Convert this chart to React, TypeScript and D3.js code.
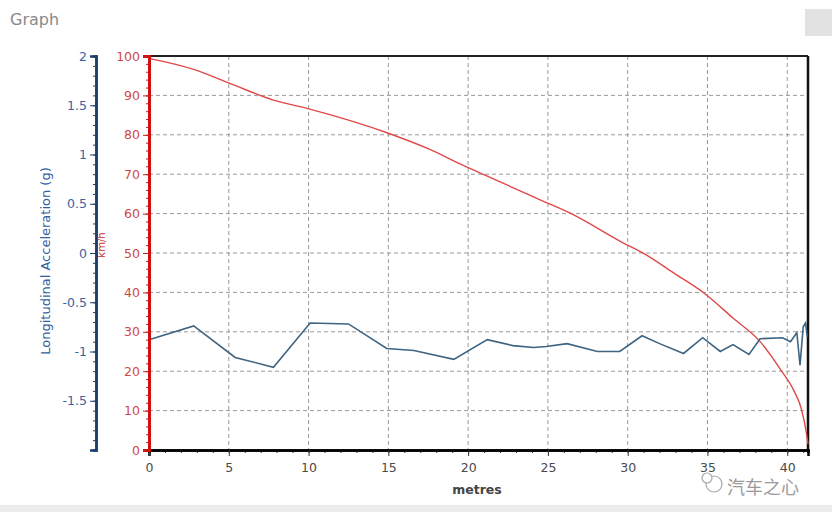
import * as d3 from "d3";
import { useRef, useEffect } from "react";

// distance (metres) vs speed (km/h)
const speedDist = [0, 2.8, 5.1, 7.8, 9.9, 15.0, 17.6, 19.5, 21.2, 24.8, 26.4, 29.7, 31.0, 32.9, 34.8, 36.6, 38.3, 39.6, 40.4, 40.9, 41.2, 41.3];
const speedVals = [99.4, 96.6, 93.0, 88.8, 86.7, 80.4, 76.3, 72.6, 69.5, 63.0, 60.1, 52.6, 49.9, 44.9, 39.8, 33.5, 27.5, 20.3, 15.2, 10.2, 4.3, 1.5];

// distance (metres) vs longitudinal acceleration (g)
const accDist = [0, 2.8, 5.4, 7.8, 10.1, 12.5, 14.9, 16.6, 19.1, 21.2, 22.8, 24.1, 24.9, 26.2, 28.1, 29.5, 30.9, 32.0, 33.5, 34.7, 35.8, 36.6, 37.6, 38.3, 39.7, 40.2, 40.6, 40.8, 41.0, 41.15, 41.25];
const accVals = [-0.88, -0.74, -1.06, -1.16, -0.71, -0.72, -0.97, -0.99, -1.08, -0.88, -0.94, -0.96, -0.95, -0.92, -1.0, -1.0, -0.84, -0.92, -1.02, -0.86, -1.0, -0.93, -1.03, -0.87, -0.86, -0.9, -0.81, -1.14, -0.75, -0.71, -0.85];

const xTicks = [0, 5, 10, 15, 20, 25, 30, 35, 40];
const speedTicks = [0, 10, 20, 30, 40, 50, 60, 70, 80, 90, 100];
const accTicks = [-1.5, -1, -0.5, 0, 0.5, 1, 1.5, 2];

const width = 832;
const height = 512;
const left = 149;
const right = 808;
const top = 56;
const bottom = 450;
const accAxisX = 96;

export default function App() {
  const gx = useRef<SVGGElement>(null);
  const gs = useRef<SVGGElement>(null);
  const ga = useRef<SVGGElement>(null);

  const x = d3.scaleLinear().domain([0, 41.3]).range([left, right]);
  const ySpeed = d3.scaleLinear().domain([0, 100]).range([bottom, top]);
  const yAcc = d3.scaleLinear().domain([-2, 2]).range([bottom, top]);

  const speedLine = d3.line<number>()
    .x((d, i) => x(speedDist[i]))
    .y((d) => ySpeed(d))
    .curve(d3.curveMonotoneX);
  const accLine = d3.line<number>()
    .x((d, i) => x(accDist[i]))
    .y((d) => yAcc(d));

  useEffect(() => {
    // x axis with minor ticks
    const g = d3.select(gx.current);
    g.selectAll("*").remove();
    g.append("g").call(d3.axisBottom(x).tickValues(d3.range(0, 42, 1)).tickSize(3).tickFormat(() => ""));
    g.append("g").call(d3.axisBottom(x).tickValues(xTicks).tickSize(6).tickFormat(d3.format("d")));
    g.selectAll(".domain").attr("stroke", "#000").attr("stroke-width", 2.5);
    g.selectAll("line").attr("stroke", "#333");
    g.selectAll("text").attr("fill", "#4a4a4a").attr("font-size", 12.5).attr("font-family", "DejaVu Sans").attr("dy", "1.0em");
  }, [x]);

  useEffect(() => {
    const g = d3.select(gs.current);
    g.selectAll("*").remove();
    g.append("g").call(d3.axisLeft(ySpeed).tickValues(d3.range(0, 101, 2)).tickSize(3).tickFormat(() => ""));
    g.append("g").call(d3.axisLeft(ySpeed).tickValues(speedTicks).tickSize(6).tickFormat(d3.format("d")));
    g.selectAll(".domain").attr("stroke", "#d01010").attr("stroke-width", 3);
    g.selectAll("line").attr("stroke", "#c02020");
    g.selectAll("text").attr("fill", "#d04848").attr("font-size", 12.5).attr("font-family", "DejaVu Sans");
  }, [ySpeed]);

  useEffect(() => {
    const g = d3.select(ga.current);
    g.selectAll("*").remove();
    g.append("g").call(d3.axisLeft(yAcc).tickValues(d3.range(-20, 21, 1).map((v) => v / 10)).tickSize(3).tickFormat(() => ""));
    g.append("g").call(d3.axisLeft(yAcc).tickValues(accTicks).tickSize(6).tickFormat((d) => String(d)));
    g.selectAll(".domain").attr("stroke", "#1d3d6e").attr("stroke-width", 2.5);
    g.selectAll("line").attr("stroke", "#1d3d6e");
    g.selectAll("text").attr("fill", "#3a64a0").attr("font-size", 12.5).attr("font-family", "DejaVu Sans");
  }, [yAcc]);

  return (
    <svg width={width} height={height} style={{ position: "absolute", left: 0, top: 0, background: "#fff" }}>
      <rect x={0} y={0} width={width} height={height} fill="#fff" />
      <text x={10} y={25} fill="#8a8a8a" fontSize={16} fontFamily="DejaVu Sans">Graph</text>
      <rect x={805} y={9} width={27} height={27} fill="#e2e2e2" />
      <rect x={0} y={505} width={width} height={7} fill="#ececec" />

      {/* grid */}
      <g stroke="#9a9a9a" strokeWidth={1} strokeDasharray="4,3">
        {speedTicks.slice(1, -1).map((t) => (
          <line key={"h" + t} x1={left} x2={right} y1={ySpeed(t)} y2={ySpeed(t)} />
        ))}
        {xTicks.slice(1).map((t) => (
          <line key={"v" + t} x1={x(t)} x2={x(t)} y1={top} y2={bottom} />
        ))}
      </g>

      {/* frame */}
      <line x1={left} x2={right} y1={top} y2={top} stroke="#222" strokeWidth={2} />
      <line x1={right} x2={right} y1={top} y2={bottom} stroke="#111" strokeWidth={2.5} />

      <path fill="none" stroke="#e04848" strokeWidth={1.4} d={speedLine(speedVals) || ""} />
      <path fill="none" stroke="#3e6482" strokeWidth={1.6} d={accLine(accVals) || ""} />

      <g ref={gx} transform={`translate(0,${bottom})`} />
      <g ref={gs} transform={`translate(${left},0)`} />
      <g ref={ga} transform={`translate(${accAxisX},0)`} />

      <text transform={`translate(50,${(top + bottom) / 2 + 8}) rotate(-90)`} textAnchor="middle" fill="#3060a0" fontSize={13} fontFamily="DejaVu Sans">
        Longitudinal Acceleration (g)
      </text>
      <text transform={`translate(105,245) rotate(-90)`} textAnchor="middle" fill="#c83030" fontSize={10} fontFamily="DejaVu Sans">
        km/h
      </text>
      <text x={477} y={494} textAnchor="middle" fill="#444" fontSize={12.5} fontFamily="DejaVu Sans" fontWeight="bold">
        metres
      </text>

      {/* watermark */}
      <g opacity={0.85}>
        <circle cx={714} cy={484} r={8} fill="#fff" stroke="#999" strokeWidth={1.2} />
        <circle cx={707} cy={478} r={5} fill="#fff" stroke="#999" strokeWidth={1.2} />
        <text x={727} y={494} fill="#8a8a8a" fontSize={18} fontFamily="Noto Sans CJK SC">汽车之心</text>
      </g>
    </svg>
  );
}
